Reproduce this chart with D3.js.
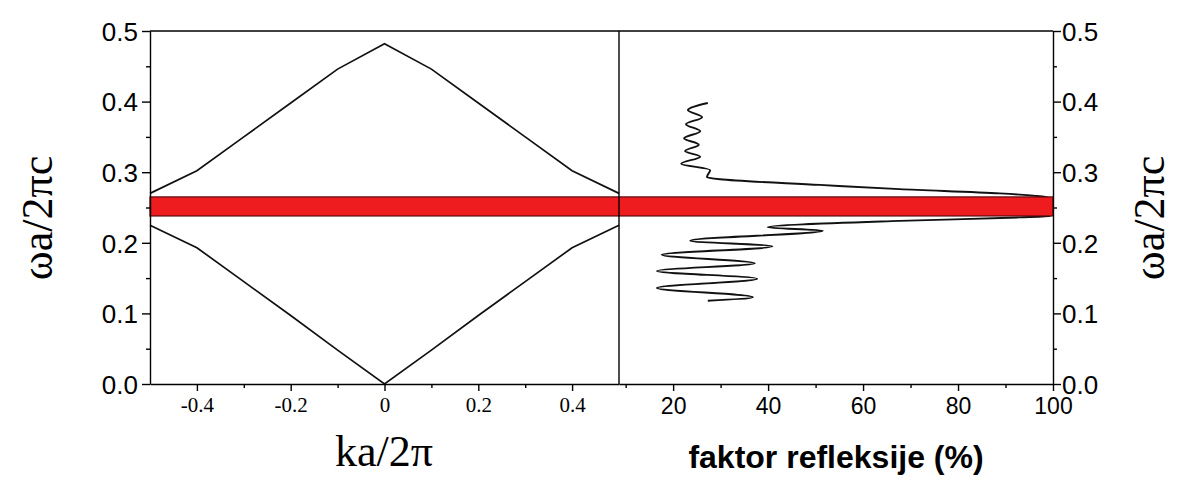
<!DOCTYPE html>
<html>
<head>
<meta charset="utf-8">
<script src="https://cdn.jsdelivr.net/npm/d3@7"></script>
<style>
  body { margin: 0; background: #fff; }
  .axis path, .axis line { stroke: #000; stroke-width: 1.4; }
</style>
</head>
<body>
<div id="chart_area"></div>
<script>
// band structure (left panel)
var kValues = [-0.5, -0.4, -0.3, -0.2, -0.1, 0, 0.1, 0.2, 0.3, 0.4, 0.5];
var upperBand = [0.27, 0.302, 0.35, 0.398, 0.446, 0.482, 0.446, 0.398, 0.35, 0.302, 0.27];
var lowerBand = [0.225, 0.193, 0.145, 0.097, 0.048, 0, 0.048, 0.097, 0.145, 0.193, 0.225];

// reflection spectrum (right panel), frequency vs reflectance in %
var reflFreq = [0.398, 0.388, 0.378, 0.368, 0.358, 0.348, 0.339, 0.330, 0.322, 0.312, 0.303, 0.293, 0.290,
    0.282, 0.276, 0.270, 0.266, 0.263, 0.250, 0.238, 0.236, 0.231, 0.222, 0.217, 0.203, 0.195,
    0.183, 0.171, 0.160, 0.149, 0.136, 0.123, 0.118];
var reflValue = [27.3, 23.1, 26.1, 22.7, 25.7, 22.3, 25.4, 22.5, 25.7, 21.7, 27.8, 27.1, 29.9,
    50.9, 67.7, 88.8, 97.2, 99.3, 99.8, 99.3, 93.0, 67.7, 39.9, 51.5, 23.6, 40.9,
    17.6, 37.2, 16.6, 37.7, 16.6, 36.8, 27.3];

// photonic band gap
var gapEdges = [0.238, 0.265];

var yTicks = [0, 0.1, 0.2, 0.3, 0.4, 0.5];
var yMinor = [0.05, 0.15, 0.25, 0.35, 0.45];
var kTicks = [-0.4, -0.2, 0, 0.2, 0.4];
var kMinor = [-0.3, -0.1, 0.1, 0.3];
var rTicks = [20, 40, 60, 80, 100];
var rMinor = [10, 30, 50, 70, 90];

var svg = d3.select("#chart_area")
    .append("svg")
    .attr("width", 1184)
    .attr("height", 480);

svg.append("rect").attr("width", 1184).attr("height", 480).attr("fill", "#fff");

var xk = d3.scaleLinear().domain([-0.5, 0.5]).range([150, 619]);
var xr = d3.scaleLinear().domain([8.6, 100]).range([619, 1053]);
var y = d3.scaleLinear().domain([0, 0.5]).range([384, 31]);

// curves
var bandLine = d3.line()
    .x(function(d, i) { return xk(kValues[i]); })
    .y(function(d) { return y(d); });

svg.append("path").datum(upperBand)
    .attr("d", bandLine)
    .attr("fill", "none").attr("stroke", "#111").attr("stroke-width", 1.7);

svg.append("path").datum(lowerBand)
    .attr("d", bandLine)
    .attr("fill", "none").attr("stroke", "#111").attr("stroke-width", 1.7);

var reflLine = d3.line()
    .curve(d3.curveMonotoneY)
    .x(function(d, i) { return xr(reflValue[i]); })
    .y(function(d) { return y(d); });

svg.append("path").datum(reflFreq)
    .attr("d", reflLine)
    .attr("fill", "none").attr("stroke", "#111").attr("stroke-width", 1.9);

// red band across both panels
svg.append("rect")
    .attr("x", xk(-0.5))
    .attr("y", y(gapEdges[1]))
    .attr("width", xr(100) - xk(-0.5))
    .attr("height", y(gapEdges[0]) - y(gapEdges[1]))
    .attr("fill", "#ee1c1f")
    .attr("stroke", "#5a0a0a")
    .attr("stroke-width", 1.2);

// frame lines
svg.append("line").attr("x1", 150).attr("x2", 1053).attr("y1", 31).attr("y2", 31)
    .attr("stroke", "#000").attr("stroke-width", 1.4);
svg.append("line").attr("x1", 619).attr("x2", 619).attr("y1", 31).attr("y2", 384)
    .attr("stroke", "#000").attr("stroke-width", 1.4);

var sans = "'Liberation Sans', Arial, sans-serif";
var serif = "'Liberation Serif', 'Times New Roman', serif";

// left y axis
var gL = svg.append("g").attr("class", "axis").attr("transform", "translate(150,0)")
    .call(d3.axisLeft(y).tickValues(yTicks).tickFormat(d3.format(".1f")).tickSize(8).tickSizeOuter(0));
gL.selectAll("text").style("font-family", sans).style("font-size", "26px").attr("x", -12).attr("dy", "0.36em");
svg.append("g").attr("class", "axis").attr("transform", "translate(150,0)")
    .call(d3.axisLeft(y).tickValues(yMinor).tickFormat("").tickSize(4).tickSizeOuter(0))
    .select(".domain").remove();

// right y axis
var gR = svg.append("g").attr("class", "axis").attr("transform", "translate(1053,0)")
    .call(d3.axisRight(y).tickValues(yTicks).tickFormat(d3.format(".1f")).tickSize(8).tickSizeOuter(0));
gR.selectAll("text").style("font-family", sans).style("font-size", "26px").attr("x", 9).attr("dy", "0.36em");
svg.append("g").attr("class", "axis").attr("transform", "translate(1053,0)")
    .call(d3.axisRight(y).tickValues(yMinor).tickFormat("").tickSize(4).tickSizeOuter(0))
    .select(".domain").remove();

// left x axis
var gK = svg.append("g").attr("class", "axis").attr("transform", "translate(0,384)")
    .call(d3.axisBottom(xk).tickValues(kTicks).tickFormat(function(d) { return String(d); }).tickSize(7).tickSizeOuter(0));
gK.selectAll("text").style("font-family", serif).style("font-size", "21px").attr("y", 13).attr("dy", "0.71em");
svg.append("g").attr("class", "axis").attr("transform", "translate(0,384)")
    .call(d3.axisBottom(xk).tickValues(kMinor).tickFormat("").tickSize(4).tickSizeOuter(0))
    .select(".domain").remove();

// right x axis
var gX = svg.append("g").attr("class", "axis").attr("transform", "translate(0,384)")
    .call(d3.axisBottom(xr).tickValues(rTicks).tickFormat(d3.format("d")).tickSize(7).tickSizeOuter(0));
gX.selectAll("text").style("font-family", sans).style("font-size", "23px").attr("y", 14).attr("dy", "0.71em");
svg.append("g").attr("class", "axis").attr("transform", "translate(0,384)")
    .call(d3.axisBottom(xr).tickValues(rMinor).tickFormat("").tickSize(4).tickSizeOuter(0))
    .select(".domain").remove();

// axis titles
svg.append("text")
    .attr("transform", "translate(52,218) rotate(-90)")
    .attr("text-anchor", "middle")
    .style("font-family", serif).style("font-size", "44px")
    .text("ωa/2πc");

svg.append("text")
    .attr("transform", "translate(1164,218) rotate(-90)")
    .attr("text-anchor", "middle")
    .style("font-family", serif).style("font-size", "44px")
    .text("ωa/2πc");

svg.append("text")
    .attr("x", 384).attr("y", 466)
    .attr("text-anchor", "middle")
    .style("font-family", serif).style("font-size", "44px")
    .text("ka/2π");

svg.append("text")
    .attr("x", 836).attr("y", 468)
    .attr("text-anchor", "middle")
    .style("font-family", sans).style("font-size", "32px").style("font-weight", "bold")
    .text("faktor refleksije (%)");
</script>
</body>
</html>
